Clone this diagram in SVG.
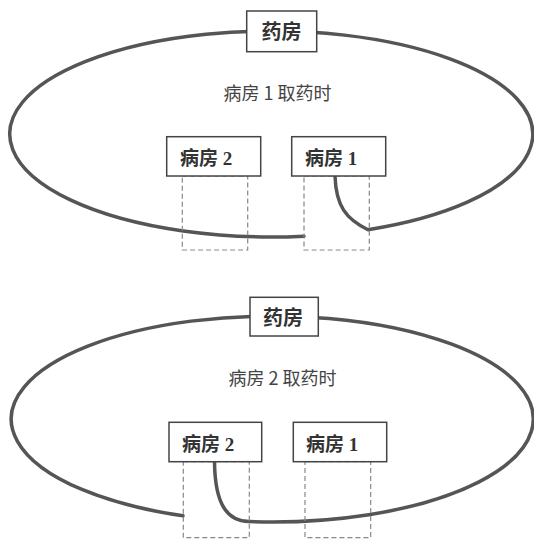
<svg xmlns="http://www.w3.org/2000/svg" width="534" height="540" viewBox="0 0 534 540">
<style>
.route{fill:none;stroke:#555;stroke-width:3.5;stroke-linecap:round;stroke-linejoin:round}
.box{fill:#fff;stroke:#444;stroke-width:1.5}
.dock{fill:none;stroke:#888;stroke-width:1.2;stroke-dasharray:5 3}
.lbl{font-family:"Liberation Serif","Noto Sans CJK SC",serif;font-weight:bold;font-size:19px;fill:#333}
.ph{font-family:"Noto Sans CJK SC",sans-serif;font-weight:bold;font-size:20px;fill:#333;text-anchor:middle}
.cap{font-family:"Noto Sans CJK SC","Liberation Sans",sans-serif;font-size:18px;fill:#444;text-anchor:middle}
</style>
<rect width="534" height="540" fill="#fff"/>
<g id="connectors">
<path class="route" d="M 304 236.2 A 261.5 103 0 1 1 368 229.7 C 346 219, 336 206, 335 176"/>
<path class="route" d="M 183 515.8 A 261 103 0 1 1 249 521.6 C 228 521, 215 506, 214.5 461.7"/>
</g>
<g id="docks">
<rect class="dock" x="182.3" y="176" width="65.4" height="74"/>
<rect class="dock" x="304" y="176" width="65.3" height="74"/>
<rect class="dock" x="183.3" y="461.7" width="66" height="76"/>
<rect class="dock" x="305" y="461.7" width="65.7" height="76"/>
</g>
<g id="pharmacy-top">
<rect class="box" x="246.7" y="11" width="70" height="40.7"/>
<text class="ph" x="281.5" y="39">药房</text>
</g>
<text class="cap" x="277.5" y="100">病房 1 取药时</text>
<g id="ward2-top">
<rect class="box" x="166.7" y="136.7" width="94" height="39.3"/>
<text class="lbl" x="180" y="165">病房 2</text>
</g>
<g id="ward1-top">
<rect class="box" x="291.7" y="136.7" width="94" height="39.3"/>
<text class="lbl" x="305" y="165">病房 1</text>
</g>
<g id="pharmacy-bottom">
<rect class="box" x="250" y="297.3" width="68.3" height="38.7"/>
<text class="ph" x="283" y="325">药房</text>
</g>
<text class="cap" x="282.5" y="385">病房 2 取药时</text>
<g id="ward2-bottom">
<rect class="box" x="169" y="422.3" width="92.7" height="39.4"/>
<text class="lbl" x="182" y="451">病房 2</text>
</g>
<g id="ward1-bottom">
<rect class="box" x="293.3" y="422.3" width="93.4" height="39.4"/>
<text class="lbl" x="306" y="451">病房 1</text>
</g>
</svg>
